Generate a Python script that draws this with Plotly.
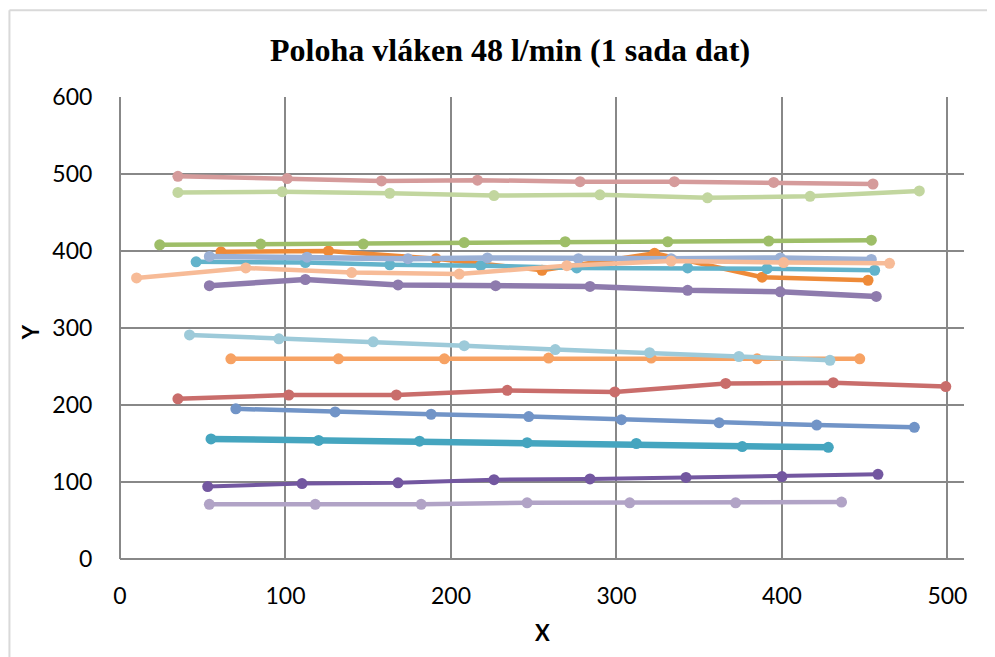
import plotly.graph_objects as go

# ---- data ----
pink_x = [35, 101, 158, 216, 278, 335, 395, 455]
pink_y = [497, 494, 491, 492, 490, 490, 489, 487]

lgreen_x = [35, 98, 163, 226, 290, 355, 417, 483]
lgreen_y = [476, 477, 475, 472, 473, 469, 471, 478]

green_x = [24, 85, 147, 208, 269, 331, 392, 454]
green_y = [408, 409, 409, 411, 412, 412, 413, 414]

orange_x = [61, 126, 191, 255, 323, 388, 452]
orange_y = [399, 400, 390, 375, 397, 366, 362]

lav_x = [54, 113, 174, 222, 277, 333, 399, 454]
lav_y = [393, 392, 390, 391, 390, 390, 391, 389]

teal_x = [46, 112, 163, 218, 276, 343, 391, 456]
teal_y = [386, 385, 382, 381, 378, 378, 377, 375]

peach_x = [10, 76, 140, 205, 270, 333, 401, 465]
peach_y = [365, 378, 372, 370, 381, 387, 385, 384]

purple_x = [54, 112, 168, 227, 284, 343, 399, 457]
purple_y = [355, 363, 356, 355, 354, 349, 347, 341]

lblue_x = [42, 96, 153, 208, 263, 320, 374, 429]
lblue_y = [291, 286, 282, 277, 272, 268, 263, 258]

orange2_x = [67, 132, 196, 259, 321, 385, 447]
orange2_y = [260, 260, 260, 261, 261, 260, 260]

red_x = [35, 102, 167, 234, 299, 366, 431, 499]
red_y = [208, 213, 213, 219, 217, 228, 229, 224]

blue_x = [70, 130, 188, 247, 303, 362, 421, 480]
blue_y = [195, 191, 188, 185, 181, 177, 174, 171]

teal2_x = [55, 120, 181, 246, 312, 376, 428]
teal2_y = [156, 154, 153, 151, 150, 146, 145]

dpurple_x = [53, 110, 168, 226, 284, 342, 400, 458]
dpurple_y = [94, 98, 99, 103, 104, 106, 107, 110]

lilac_x = [54, 118, 182, 246, 308, 372, 436]
lilac_y = [71, 71, 71, 73, 73, 73, 74]

x_ticks = [0, 100, 200, 300, 400, 500]
y_ticks = [0, 100, 200, 300, 400, 500, 600]

series = [
    (lilac_x, lilac_y, "#B1A3C6", 4.5),
    (dpurple_x, dpurple_y, "#7357A0", 4),
    (teal2_x, teal2_y, "#45A5BF", 6.5),
    (blue_x, blue_y, "#7194C7", 4.5),
    (red_x, red_y, "#C96D6B", 4.5),
    (orange2_x, orange2_y, "#F7A263", 4.5),
    (lblue_x, lblue_y, "#9DCAD9", 4.5),
    (purple_x, purple_y, "#8E7BAD", 5.5),
    (orange_x, orange_y, "#EE8A38", 4.5),
    (teal_x, teal_y, "#63B3CB", 4.5),
    (lav_x, lav_y, "#9BB1D6", 5.5),
    (peach_x, peach_y, "#F7BB97", 4.5),
    (green_x, green_y, "#9EBE68", 4.5),
    (lgreen_x, lgreen_y, "#C2D69F", 4.5),
    (pink_x, pink_y, "#D59B9B", 4.5),
]

fig = go.Figure()
for xs, ys, col, w in series:
    fig.add_trace(go.Scatter(
        x=xs, y=ys, mode="lines+markers",
        line=dict(color=col, width=w),
        marker=dict(color=col, size=11),
        showlegend=False, cliponaxis=False,
    ))

grid = "#888888"
tickfont = dict(family="Lato", size=23, color="black")

fig.update_xaxes(
    range=[0, 510], tickvals=x_ticks, ticktext=[str(v) for v in x_ticks],
    showgrid=True, gridcolor=grid, gridwidth=2,
    zeroline=True, zerolinecolor=grid, zerolinewidth=2,
    showline=False, tickfont=tickfont,
    ticks="outside", ticklen=16, tickcolor="rgba(0,0,0,0)",
)
fig.update_yaxes(
    range=[0, 600], tickvals=y_ticks, ticktext=[str(v) for v in y_ticks],
    showgrid=True, gridcolor=grid, gridwidth=2,
    zeroline=True, zerolinecolor=grid, zerolinewidth=2,
    showline=False, tickfont=tickfont,
    ticks="outside", ticklen=22, tickcolor="rgba(0,0,0,0)",
)

fig.update_layout(
    width=987, height=649,
    margin=dict(l=112, r=31, t=89, b=98),
    paper_bgcolor="white", plot_bgcolor="white",
    annotations=[
        dict(text="<b>Poloha vláken 48 l/min (1 sada dat)</b>", xref="paper", yref="paper",
             x=0.462, y=1.1017, xanchor="center", yanchor="middle", showarrow=False,
             font=dict(family="Liberation Serif", size=32, color="black")),
        dict(text="<b>Y</b>", xref="paper", yref="paper", x=-0.1066, y=0.491,
             xanchor="center", yanchor="middle", showarrow=False, textangle=-90,
             font=dict(family="Lato", size=22, color="black")),
        dict(text="<b>X</b>", xref="paper", yref="paper", x=0.5, y=-0.160,
             xanchor="center", yanchor="middle", showarrow=False,
             font=dict(family="Lato", size=22, color="black")),
    ],
    shapes=[
        dict(type="line", xref="paper", yref="paper", x0=-0.1310, x1=-0.1310,
             y0=1.188, y1=-0.25, line=dict(color="#D9D9D9", width=2)),
        dict(type="line", xref="paper", yref="paper", x0=-0.1310, x1=1.06,
             y0=1.188, y1=1.188, line=dict(color="#D9D9D9", width=2)),
    ],
)

fig.write_html("out.html")
